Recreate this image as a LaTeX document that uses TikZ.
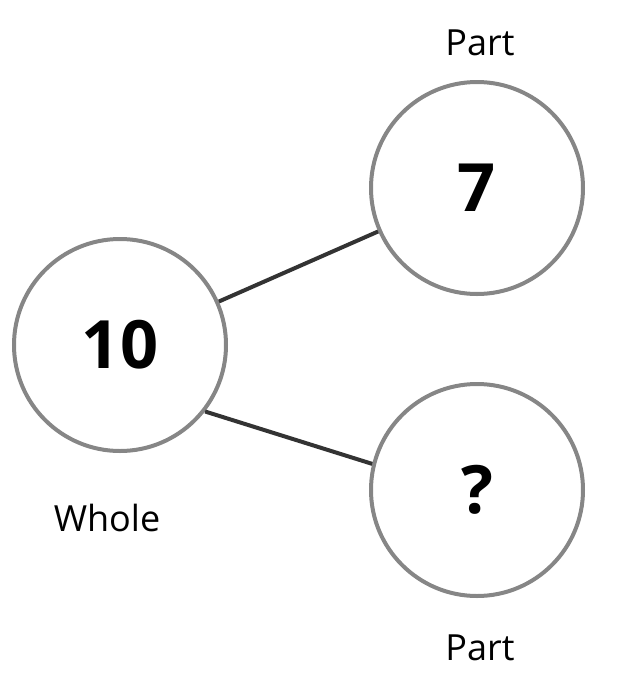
\documentclass[tikz,border=0pt]{standalone}
\usepackage{fontspec}
\setmainfont{Open Sans}
\usetikzlibrary{positioning}

\begin{document}
\begin{tikzpicture}[
    x=0.75pt, y=-0.75pt,
    bubble/.style={circle, draw=gray!95!white, line width=3pt, minimum size=159pt, inner sep=0pt, font=\fontsize{50}{50}\selectfont\bfseries},
    label/.style={font=\fontsize{27}{27}\selectfont},
    link/.style={draw=black!80, line width=3pt}
]
    \useasboundingbox (0,0) rectangle (643,697);
    \node[bubble] (whole) at (120,345) {10};
    \node[bubble] (part1) at (477,188) {7};
    \node[bubble] (part2) at (477,490) {?};
    \node[label] (wholelbl) at (107,518) {Whole};
    \node[label] (part1lbl) at (480,43) {Part};
    \node[label] (part2lbl) at (480,648) {Part};

    % Connectors
    \draw[link] (whole) -- (part1);
    \draw[link] (whole.-38) -- (part2.166);
\end{tikzpicture}
\end{document}
